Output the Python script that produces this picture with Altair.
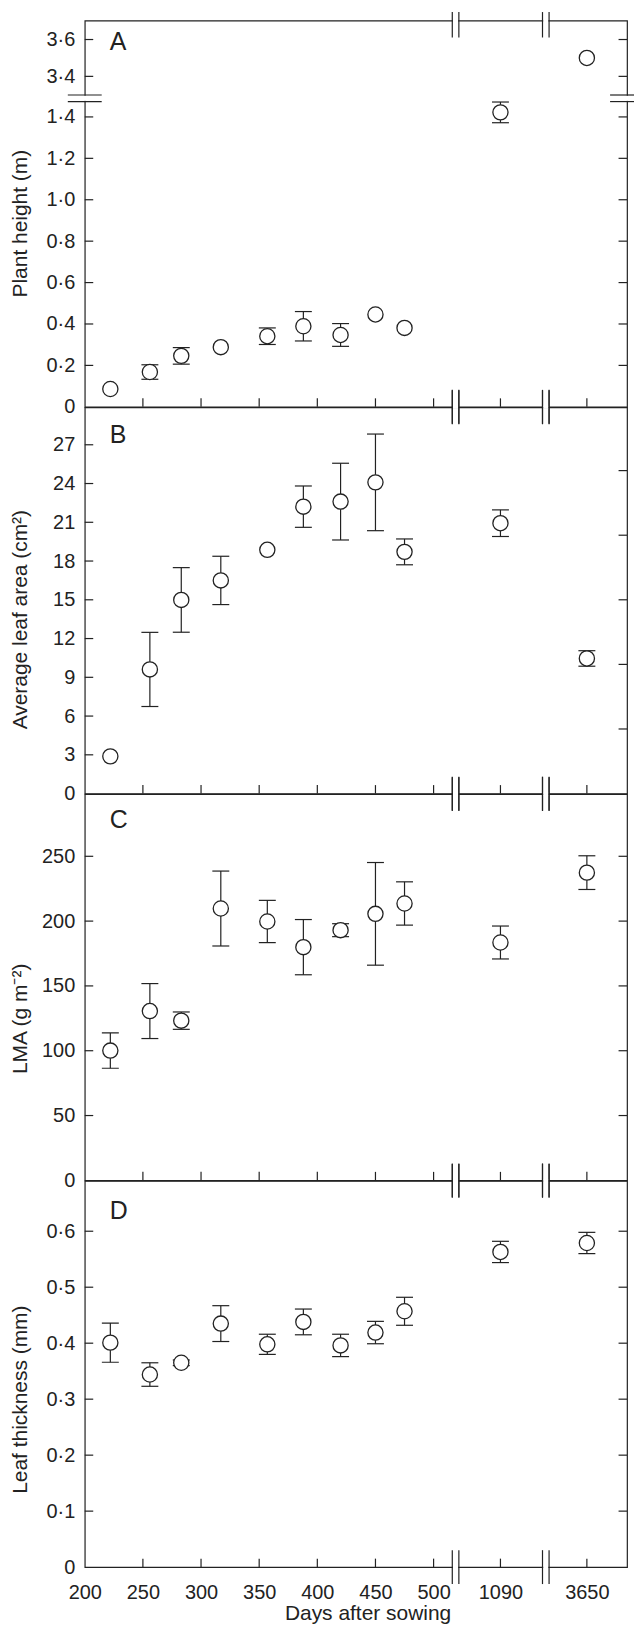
import altair as alt
import pandas as pd

# ---------------- data ----------------
days = [222, 256, 283, 317, 357, 388, 420, 450, 475, 1090, 3650]

plant_height = [0.086, 0.168, 0.246, 0.288, 0.341, 0.389, 0.347, 0.446, 0.381, 1.422, 3.50]
plant_height_err = [0.0, 0.035, 0.040, 0.0, 0.040, 0.071, 0.055, 0.0, 0.0, 0.050, 0.0]

leaf_area = [2.88, 9.61, 14.99, 16.50, 18.87, 22.21, 22.60, 24.09, 18.71, 20.93, 10.46]
leaf_area_err = [0.0, 2.87, 2.50, 1.87, 0.0, 1.60, 2.97, 3.74, 1.00, 1.03, 0.60]

lma = [100.1, 130.6, 123.2, 209.7, 199.7, 179.9, 193.0, 205.6, 213.6, 183.5, 237.4]
lma_err = [13.6, 21.2, 6.7, 28.9, 16.3, 21.3, 5.0, 39.6, 16.7, 12.7, 13.0]

thickness = [0.401, 0.344, 0.365, 0.435, 0.398, 0.438, 0.396, 0.419, 0.457, 0.563, 0.579]
thickness_err = [0.035, 0.021, 0.005, 0.032, 0.018, 0.023, 0.020, 0.020, 0.025, 0.019, 0.019]

x_tick_values = [250, 300, 350, 400, 450, 500, 1090, 3650]
x_label_values = [200, 250, 300, 350, 400, 450, 500, 1090, 3650]

a_labels = [0, 0.2, 0.4, 0.6, 0.8, 1.0, 1.2, 1.4, 3.4, 3.6]
b_labels = [0, 3, 6, 9, 12, 15, 18, 21, 24, 27]
b_right_ticks = [5, 10, 15, 20, 25]
c_labels = [0, 50, 100, 150, 200, 250]
d_labels = [0, 0.1, 0.2, 0.3, 0.4, 0.5, 0.6]

# ---------------- layout / style ----------------
W, H = 544, 387.5
INK = "#222222"
FONT = "Liberation Sans"
TICK = 8.5
LW = 1.2

# broken x axis: piecewise scale, collapsed segments are the breaks
X_DOMAIN = [200, 518.9, 1051.4, 1129.0, 3614.7, 3684.5]
X_RANGE = [0, 372, 372, 462.5, 462.5, W]
X_BREAKS = [(X_DOMAIN[1] + X_DOMAIN[2]) / 2, (X_DOMAIN[3] + X_DOMAIN[4]) / 2]

# broken y axis for panel A
A_DOMAIN = [0, 1.490, 3.281, 3.703]
A_RANGE = [H, 78, 78, 0]
A_BREAK = (A_DOMAIN[1] + A_DOMAIN[2]) / 2

DOT_EXPR = "datum.value == 0 ? '0' : replace(format(datum.value, '.1f'), '.', '\u00b7')"
INT_EXPR = "format(datum.value, 'd')"


def xs():
    return alt.Scale(domain=X_DOMAIN, range=X_RANGE, nice=False, zero=False)


def panel(values, errs, yscale, labels, right_ticks, label_expr, title, title_y,
          letter, letter_y, top_ext=17, x_axis=None, ybreak=None):
    df = pd.DataFrame({"day": days, "val": values, "err": errs})
    df["lo"] = df["val"] - df["err"]
    df["hi"] = df["val"] + df["err"]

    yaxis = alt.Axis(values=labels, labelExpr=label_expr, ticks=False, domain=False, grid=False,
                     labelFontSize=20, labelPadding=10, labelOverlap=False, labelFont=FONT,
                     labelColor=INK, title=title, titleFontSize=21, titleFontWeight="normal",
                     titleFont=FONT, titleColor=INK, titleAngle=270, titleX=-58.5,
                     titleY=title_y, titleAlign="center", titleBaseline="alphabetic")

    # same axis definition in every layer so that they merge cleanly
    def X(f):
        return alt.X(f, type="quantitative", scale=xs(), axis=x_axis)

    def Y(f):
        return alt.Y(f, type="quantitative", scale=yscale, axis=yaxis)

    layers = []
    layers.append(alt.Chart(df).mark_rule(color=INK, strokeWidth=LW).encode(
        x=X("day"), y=Y("lo"), y2="hi"))
    for f in ("lo", "hi"):
        layers.append(alt.Chart(df).transform_filter("datum.err > 0").mark_tick(
            orient="horizontal", size=17, thickness=LW, color=INK, opacity=1).encode(
            x=X("day"), y=Y(f)))
    layers.append(alt.Chart(df).mark_point(
        shape="circle", filled=True, fill="white", stroke=INK, strokeWidth=1.3,
        size=232, opacity=1, fillOpacity=1).encode(x=X("day"), y=Y("val")))

    # inward ticks
    tdf = pd.DataFrame({"t": x_tick_values})
    layers.append(alt.Chart(tdf).mark_rule(color=INK, strokeWidth=LW).encode(
        x=X("t"), y=alt.value(H), y2=alt.value(H - TICK)))
    ldf = pd.DataFrame({"t": [v for v in labels if v != 0]})
    layers.append(alt.Chart(ldf).mark_rule(color=INK, strokeWidth=LW).encode(
        y=Y("t"), x=alt.value(0), x2=alt.value(TICK)))
    rdf = pd.DataFrame({"t": right_ticks})
    layers.append(alt.Chart(rdf).mark_rule(color=INK, strokeWidth=LW).encode(
        y=Y("t"), x=alt.value(W), x2=alt.value(W - TICK)))

    # x-axis break marks on top and bottom borders
    bdf = pd.DataFrame({"b": X_BREAKS})
    for yy in (0, H):
        layers.append(alt.Chart(bdf).mark_rule(color="white", strokeWidth=3,
                                                xOffset=-2.6, x2Offset=2.6).encode(
            x=X("b"), x2="b", y=alt.value(yy)))
    for off in (-3.3, 3.3):
        layers.append(alt.Chart(bdf).mark_rule(color=INK, strokeWidth=LW, xOffset=off).encode(
            x=X("b"), y=alt.value(-top_ext), y2=alt.value(17)))
        layers.append(alt.Chart(bdf).mark_rule(color=INK, strokeWidth=LW, xOffset=off).encode(
            x=X("b"), y=alt.value(H - 17), y2=alt.value(H + 17)))

    # y-axis break marks (panel A)
    if ybreak is not None:
        ydf = pd.DataFrame({"b": [ybreak]})
        for xx in (0, W):
            layers.append(alt.Chart(ydf).mark_rule(color="white", strokeWidth=3,
                                                    yOffset=-2.6, y2Offset=2.6).encode(
                y=Y("b"), y2="b", x=alt.value(xx)))
        for off in (-3.3, 3.3):
            layers.append(alt.Chart(ydf).mark_rule(color=INK, strokeWidth=LW, yOffset=off).encode(
                y=Y("b"), x=alt.value(-17), x2=alt.value(17)))
            layers.append(alt.Chart(ydf).mark_rule(color=INK, strokeWidth=LW, yOffset=off).encode(
                y=Y("b"), x=alt.value(W - 17), x2=alt.value(W + 7)))

    # panel letter
    layers.append(alt.Chart(alt.Data(values=[{}])).mark_text(
        text=letter, align="left", baseline="alphabetic", fontSize=25, font=FONT,
        color=INK).encode(x=alt.value(25), y=alt.value(letter_y)))

    return alt.layer(*layers).properties(width=W, height=H)


def mid_title(top_val, dmax):
    return H - (H * top_val / dmax) / 2


# Panel A
a_scale = alt.Scale(domain=A_DOMAIN, range=A_RANGE, nice=False, zero=False)
pA = panel(plant_height, plant_height_err, a_scale, a_labels, [v for v in a_labels if v != 0],
           DOT_EXPR, "Plant height (m)", (H + 19) / 2, "A", 30, top_ext=8.5, ybreak=A_BREAK)

# Panel B
b_max = 29.9
pB = panel(leaf_area, leaf_area_err, alt.Scale(domain=[0, b_max], nice=False, zero=False),
           b_labels, b_right_ticks, INT_EXPR, "Average leaf area (cm\u00b2)",
           mid_title(27, b_max), "B", 36)

# Panel C
c_max = 298
pC = panel(lma, lma_err, alt.Scale(domain=[0, c_max], nice=False, zero=False),
           c_labels, [v for v in c_labels if v != 0], INT_EXPR, "LMA (g m\u207b\u00b2)",
           mid_title(250, c_max), "C", 34)

# Panel D
d_max = 0.69
x_axis = alt.Axis(values=x_label_values, format="d", ticks=False, domain=False, grid=False,
                  labelFontSize=20, labelPadding=15, labelOverlap=False, labelFlush=False,
                  labelFont=FONT, labelColor=INK, title="Days after sowing", titleFontSize=21,
                  titleFontWeight="normal", titleFont=FONT, titleColor=INK, titleX=283.7,
                  titleY=53, titleAlign="center", titleBaseline="alphabetic")
pD = panel(thickness, thickness_err, alt.Scale(domain=[0, d_max], nice=False, zero=False),
           d_labels, [v for v in d_labels if v != 0], DOT_EXPR, "Leaf thickness (mm)",
           mid_title(0.6, d_max), "D", 38, x_axis=x_axis)

chart = alt.vconcat(pA, pB, pC, pD, spacing=0, bounds="flush").properties(
    padding={"left": 0, "top": 0, "right": 0, "bottom": 0}
).configure(font=FONT, view=alt.ViewConfig(stroke=INK, strokeWidth=LW))

chart.save("out.html", embed_options={"renderer": "svg", "actions": False})
